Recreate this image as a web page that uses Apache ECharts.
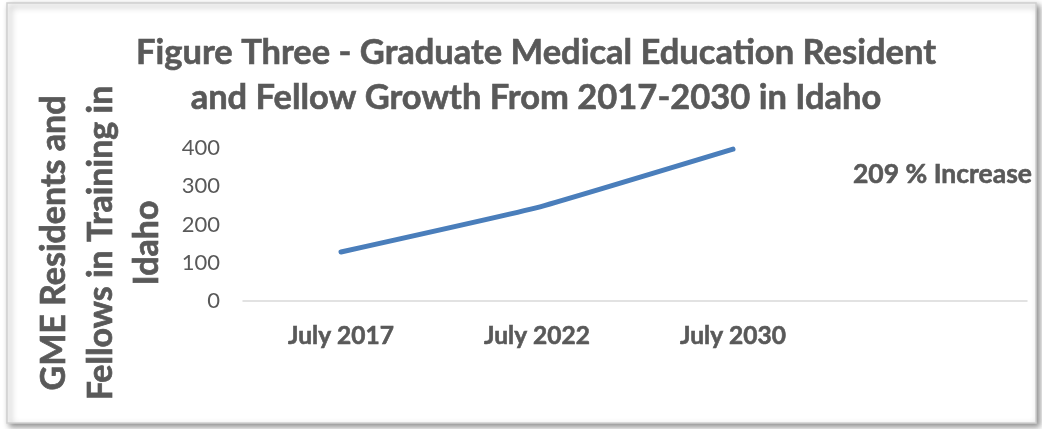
<!DOCTYPE html>
<html><head><meta charset="utf-8">
<script src="https://cdn.jsdelivr.net/npm/echarts@6/dist/echarts.min.js"></script>
<style>html,body{margin:0;padding:0;background:#fff}#c{width:1042px;height:429px}</style>
</head><body><div id="c"></div>
<script>
const categories = ['July 2017', 'July 2022', 'July 2030', ''];
const residents = [128, 244, 397, null];
const yTicks = { min: 0, max: 400, interval: 100 };
const titleText = 'Figure Three - Graduate Medical Education Resident\nand Fellow Growth From 2017-2030 in Idaho';
const yName = 'GME Residents and\nFellows in Training in\nIdaho';
const note = '209 % Increase';

const FONT = 'Lato';
const GREY = '#595959';
const heavy = { textBorderColor: GREY, textBorderWidth: 0.6 };
const chart = echarts.init(document.getElementById('c'));
chart.setOption({
  animation: false,
  textStyle: { fontFamily: FONT },
  title: {
    text: titleText, left: 531, top: 25, textAlign: 'center',
    textStyle: Object.assign({ fontFamily: FONT, fontSize: 34.5, fontWeight: 'bold', color: GREY, lineHeight: 45 }, heavy)
  },
  grid: { left: 243, right: 15, top: 148, bottom: 128 },
  xAxis: {
    type: 'category', data: categories, boundaryGap: true,
    axisLine: { lineStyle: { color: '#d9d9d9', width: 1.5 } },
    axisTick: { show: false },
    axisLabel: Object.assign({ color: GREY, fontSize: 24.5, fontWeight: 'bold', margin: 23, fontFamily: FONT }, heavy)
  },
  yAxis: {
    type: 'value', min: yTicks.min, max: yTicks.max, interval: yTicks.interval,
    splitLine: { show: false }, axisLine: { show: false }, axisTick: { show: false },
    axisLabel: { color: GREY, fontSize: 22, margin: 23, fontFamily: FONT }
  },
  series: [{
    type: 'line', data: residents, showSymbol: false, smooth: 0.1,
    lineStyle: { color: '#4a7ebb', width: 5, cap: 'round' }
  }],
  graphic: [
    { type: 'rect', z: -10, silent: true,
      shape: { x: 7, y: 3, width: 1029, height: 420 },
      style: { fill: '#fff', stroke: '#d0d0d0', lineWidth: 1.5,
        shadowBlur: 6, shadowOffsetX: 3, shadowOffsetY: 3, shadowColor: 'rgba(0,0,0,0.45)' } },
    { type: 'text', x: 101, y: 243, rotation: Math.PI / 2,
      style: { text: yName, align: 'center', verticalAlign: 'middle', lineHeight: 46.5,
        fontFamily: FONT, fontSize: 34, fontWeight: 'bold', fill: GREY, stroke: GREY, lineWidth: 0.7 } },
    { type: 'text', x: 853, y: 174,
      style: { text: note, verticalAlign: 'middle', fontFamily: FONT, fontSize: 26.5, fontWeight: 'bold', fill: GREY, stroke: GREY, lineWidth: 0.6 } }
  ]
});
</script></body></html>
